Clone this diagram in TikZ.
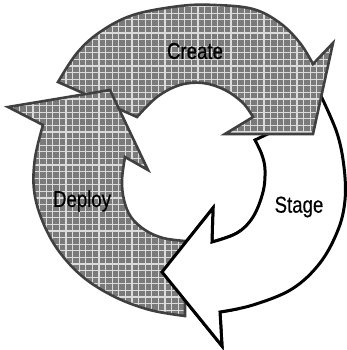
\documentclass[tikz,border=0pt]{standalone}
\usepackage{fontspec}
\newfontfamily\lblfont[FakeStretch=0.81,FakeBold=0.4]{Liberation Sans}
\begin{document}
\begin{tikzpicture}[x=1pt,y=-1pt,
  grayfill/.style={fill=black!52},
  grayedge/.style={draw=black!75, line width=2.6pt, line join=miter},
  gridline/.style={draw=black!14, line width=1.1pt},
  whitearrow/.style={fill=white, draw=black, line width=3pt, line join=miter},
  lbl/.style={font=\lblfont\fontsize{23}{25}\selectfont, text=black, inner sep=0pt}
]
\useasboundingbox (0,0) rectangle (346,350);

% outlines of the three cycle arrows
\def\stagepath{plot[smooth,tension=0.6] coordinates {(321,96) (337,133) (344,167) (345,200) (338,230) (320,263) (292,289) (253,305) (220,312)}
  -- (222,346) -- (162,272) -- (213,208) -- (212,242)
  -- plot[smooth,tension=0.6] coordinates {(212,242) (237,233) (253,217) (263,192) (265,170) (262,155) (255,140)}
  -- (274,131) -- cycle}
\def\createpath{plot[smooth,tension=0.6] coordinates {(58,82) (77,53) (100,32) (133,15) (180,6) (215,5) (253,9) (280,23) (300,43) (313,64)}
  -- (333,43) -- (313,134) -- (225,134) -- (253,117)
  -- plot[smooth,tension=0.6] coordinates {(253,117) (243,103) (225,90) (203,83) (180,85) (157,97) (137,117)}
  -- cycle}
\def\deploypath{(43,125) -- (8,107) -- (110,90) -- (148,170) -- (125,157)
  -- plot[smooth,tension=0.6] coordinates {(125,157) (122,180) (124,200) (131,217) (145,230) (163,238) (185,241)}
  -- plot[smooth,tension=0.6] coordinates {(185,316) (150,310) (115,297) (83,277) (58,250) (42,220) (34,190) (35,158) (43,125)}
  -- cycle}

% gray screened arrow: fill, light screen grid, dark rim
\newcommand\grayshape[1]{%
  \fill[grayfill] #1;
  \begin{scope}
    \clip #1;
    \foreach \g in {0,6.6,...,350}{
      \draw[gridline] (\g,0) -- (\g,350);
      \draw[gridline] (0,\g) -- (346,\g);
    }
  \end{scope}
  \draw[grayedge] #1;}

\draw[whitearrow] \stagepath;
\grayshape{\createpath}
\grayshape{\deploypath}
% the Stage head lies over the Deploy tail
\begin{scope}
  \clip (150,195) rectangle (240,350);
  \draw[whitearrow] \stagepath;
\end{scope}

\node[lbl] (create) at (195,51) {Create};
\node[lbl] (deploy) at (82,201) {Deploy};
\node[lbl] (stage) at (299,207) {Stage};
\end{tikzpicture}
\end{document}
